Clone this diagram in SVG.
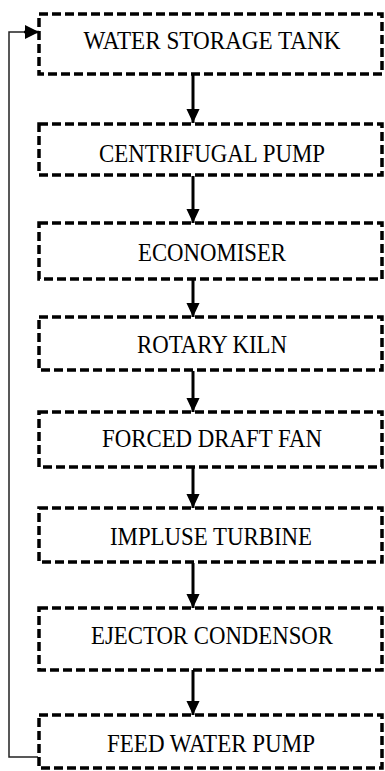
<svg xmlns="http://www.w3.org/2000/svg" width="385" height="771" viewBox="0 0 385 771">
<defs>
<marker id="ah" markerUnits="userSpaceOnUse" markerWidth="14" markerHeight="15" viewBox="0 0 15 14" refX="15" refY="7" orient="auto">
<path d="M0,0 L15,7 L0,14 Z" fill="#000"/>
</marker>
<marker id="ahs" markerUnits="userSpaceOnUse" markerWidth="14" markerHeight="14" viewBox="0 0 13 13" refX="13" refY="6.5" orient="auto">
<path d="M0,0 L13,6.5 L0,13 Z" fill="#000"/>
</marker>
</defs>
<style>
.box{fill:#fff;stroke:#000;stroke-width:3.5;stroke-dasharray:9 4}
.lbl{font-family:"Liberation Serif","Times New Roman",serif;font-size:26px;fill:#000;text-anchor:middle}
.arr{stroke:#000;stroke-width:3;fill:none;marker-end:url(#ah)}
.fb{stroke:#222;stroke-width:1.5;fill:none}
</style>
<rect width="385" height="771" fill="#fff"/>
<g id="connectors">
<path class="arr" d="M193,75 V123"/>
<path class="arr" d="M193,176 V223"/>
<path class="arr" d="M193,272 V317"/>
<path class="arr" d="M193,371 V412"/>
<path class="arr" d="M193,468 V508"/>
<path class="arr" d="M193,563 V608"/>
<path class="arr" d="M193,665 V715"/>
<path class="fb" d="M38,757 H9 V32 H28"/>
<path d="M24,32 H39" stroke="#000" stroke-width="2.5" marker-end="url(#ahs)"/>
</g>
<g id="n1"><rect class="box" x="39" y="14" width="343" height="60"/><text class="lbl" x="212" y="49" textLength="257" lengthAdjust="spacingAndGlyphs">WATER STORAGE TANK</text></g>
<g id="n2"><rect class="box" x="39" y="124" width="343" height="51"/><text class="lbl" x="212" y="162" textLength="226" lengthAdjust="spacingAndGlyphs">CENTRIFUGAL PUMP</text></g>
<g id="n3"><rect class="box" x="39" y="223" width="343" height="56"/><text class="lbl" x="212" y="261" textLength="148" lengthAdjust="spacingAndGlyphs">ECONOMISER</text></g>
<g id="n4"><rect class="box" x="39" y="317" width="343" height="53"/><text class="lbl" x="212" y="353" textLength="150" lengthAdjust="spacingAndGlyphs">ROTARY KILN</text></g>
<g id="n5"><rect class="box" x="39" y="412" width="343" height="55"/><text class="lbl" x="212" y="447" textLength="220" lengthAdjust="spacingAndGlyphs">FORCED DRAFT FAN</text></g>
<g id="n6"><rect class="box" x="39" y="508" width="343" height="54"/><text class="lbl" x="211" y="545" textLength="202" lengthAdjust="spacingAndGlyphs">IMPLUSE TURBINE</text></g>
<g id="n7"><rect class="box" x="39" y="608" width="343" height="62"/><text class="lbl" x="212" y="644" textLength="242" lengthAdjust="spacingAndGlyphs">EJECTOR CONDENSOR</text></g>
<g id="n8"><rect class="box" x="39" y="715" width="343" height="53"/><text class="lbl" x="211" y="752" textLength="208" lengthAdjust="spacingAndGlyphs">FEED WATER PUMP</text></g>
</svg>
